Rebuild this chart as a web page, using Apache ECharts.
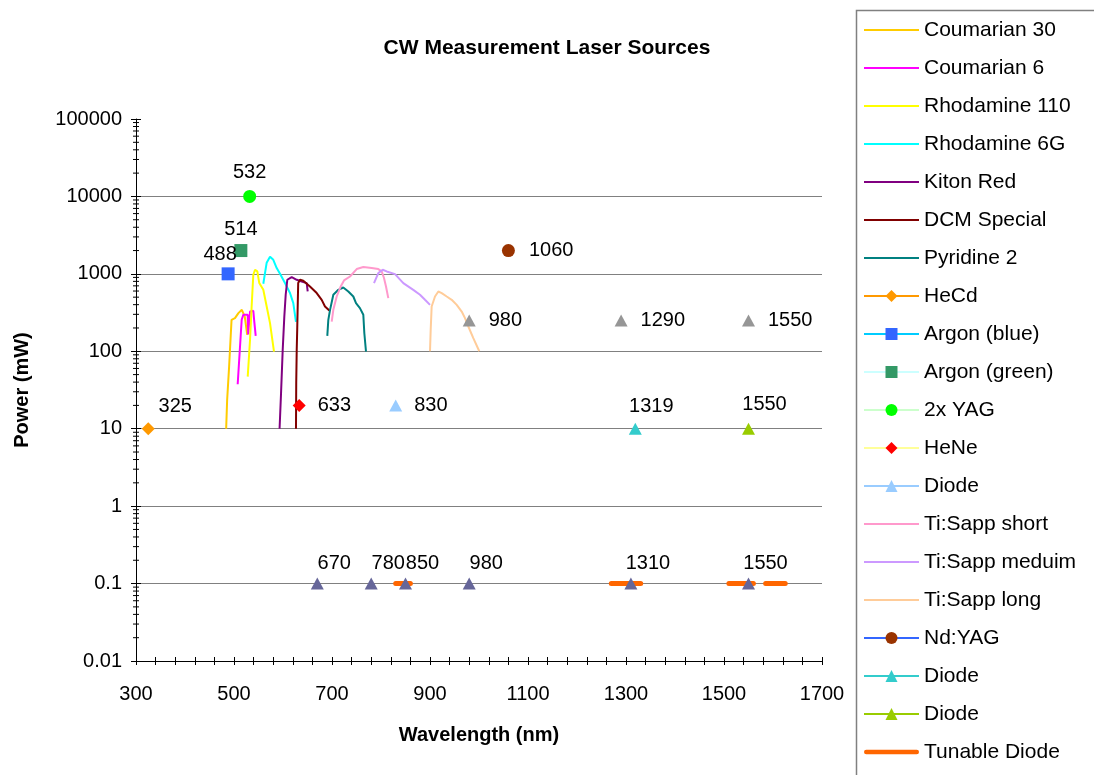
<!DOCTYPE html>
<html><head><meta charset="utf-8">
<script src="https://cdn.jsdelivr.net/npm/echarts@6/dist/echarts.min.js"></script>
<style>html,body{margin:0;padding:0;background:#fff}#c{width:1094px;height:775px}</style>
</head><body><div id="c"></div>
<script>
// ---- data (wavelength nm, power mW) ----
const coumarin30 = [[484,10],[486,23.5],[490,63],[495,255],[502,268],[509,311],[516,343],[520,343],[522,281],[527,163]];
const coumarin6 = [[507.5,37.5],[515.7,255],[519,296],[528,296],[529,165],[532.7,326],[539.4,333],[541.4,242],[544.3,158]];
const rhodamine110 = [[528,47],[532.7,140],[536,379],[539.4,973],[542.9,1130],[547.6,1075],[551.6,760],[559.8,622],[566.7,379],[573.5,231],[581.6,99]];
const rhodamine6G = [[559.8,745],[566.7,1393],[573.5,1665],[580.2,1520],[587.1,1190],[593.9,1002],[604.1,760],[614.3,565],[621,419],[626.5,240]];
const kitonRed = [[593,10],[596,28.7],[599.4,104],[602.7,281],[605.5,537],[608.8,839],[617.8,910],[628,839],[638.2,798],[648.4,760],[650.4,592]];
const dcmSpecial = [[626.5,10],[627,39],[628,104],[629,189],[631,760],[634.7,839],[641.4,815],[655,687],[668.8,565],[679,462],[685.7,379],[694.5,336]];
const pyridine2 = [[690.4,158],[692.5,255],[696,343],[702.7,537],[712.9,622],[723,667],[733.3,592],[743.5,510],[749,419],[757,361],[763.9,296],[766,171],[769.4,99]];
const tiSappShort = [[699.4,242],[702.7,343],[709.6,510],[717.8,687],[724.5,822],[736.7,925],[750.4,1153],[763.9,1224],[781,1190],[794.5,1153],[801.4,1075],[806.1,883],[810.2,687],[814.9,486]];
const tiSappMedium = [[785.7,760],[794.5,1023],[803.5,1130],[811.6,1075],[828.6,993],[845.5,760],[865.9,622],[879.6,537],[889.8,462],[900,398]];
const tiSappLong = [[900,100],[901.4,189],[903.4,379],[910.2,510],[917,592],[923.9,565],[934.1,510],[944.3,462],[954.5,398],[964.7,326],[971.4,268],[978.2,209],[988.4,148],[1000.6,100]];
const heCd = [[325,10]];
const argonBlue = [[488,1000]];
const argonGreen = [[514,2000]];
const yag2x = [[532,10000]];
const heNe = [[633,20]];
const diode830 = [[830,20]];
const ndYag = [[1060,2000]];
const diode1319 = [[1319,10]];
const diode1550 = [[1550,10]];
const tunableDiode = [[830,0.1],[860,0.1],[900,'-'],[1270,0.1],[1330,0.1],[1400,'-'],[1510,0.1],[1560,0.1],[1572,'-'],[1585,0.1],[1625,0.1]];
const diodeHighPower = [[980,250],[1290,250],[1550,250]];
const diodeLowPower = [[670,0.1],[780,0.1],[850,0.1],[980,0.1],[1310,0.1],[1550,0.1]];
// axis decoration
const xTicks = {min:300, max:1700, interval:200};
const yRange = {min:0.01, max:100000};
const minorMultipliers = [2,3,4,5,6,7,8,9];
const decades = [0.01,0.1,1,10,100,1000,10000];

const FONT = 'Liberation Sans, Arial, sans-serif';
const LINE_ICON = 'path://M0,0H55V1.8H0Z';
const THICK_ICON = 'path://M2.5,0H57.5A2.5,2.5 0 0 1 57.5,5H2.5A2.5,2.5 0 0 1 2.5,0Z';
const legendNames = [
  {name:'Coumarian 30', icon:LINE_ICON},{name:'Coumarian 6', icon:LINE_ICON},{name:'Rhodamine 110', icon:LINE_ICON},
  {name:'Rhodamine 6G', icon:LINE_ICON},{name:'Kiton Red', icon:LINE_ICON},{name:'DCM Special', icon:LINE_ICON},
  {name:'Pyridine 2', icon:LINE_ICON},{name:'HeCd'},{name:'Argon (blue)'},{name:'Argon (green)'},{name:'2x YAG'},
  {name:'HeNe'},{name:'Diode'},{name:'Ti:Sapp short', icon:LINE_ICON},{name:'Ti:Sapp meduim', icon:LINE_ICON},
  {name:'Ti:Sapp long', icon:LINE_ICON},{name:'Nd:YAG'},{name:'Diode '},{name:'Diode  '},{name:'Tunable Diode', icon:THICK_ICON}];

function dye(name, data, color){
  return {name, type:'line', data, symbol:'none', showSymbol:false, lineStyle:{color, width:2}, itemStyle:{color}, z:2, silent:true};
}
function pt(name, data, lineColor, color, symbol, size, label, extra){
  return Object.assign({name, type:'line', data, symbol, symbolSize:size, showSymbol:true,
    lineStyle:{color:lineColor, width:2}, itemStyle:{color},
    label:Object.assign({show:true, color:'#000', fontSize:20, fontFamily:FONT,
      formatter:p=>String(p.value[0])}, label), z:3, silent:true}, extra||{});
}

const minorTickData = [];
decades.forEach(d=>minorMultipliers.forEach(m=>minorTickData.push([xTicks.min, +(d*m).toPrecision(3)])));

const series = [
  dye('Coumarian 30', coumarin30, '#FFCC00'),
  dye('Coumarian 6', coumarin6, '#FF00FF'),
  dye('Rhodamine 110', rhodamine110, '#FFFF00'),
  dye('Rhodamine 6G', rhodamine6G, '#00FFFF'),
  dye('Kiton Red', kitonRed, '#800080'),
  dye('DCM Special', dcmSpecial, '#800000'),
  dye('Pyridine 2', pyridine2, '#008080'),
  pt('HeCd', heCd, '#FF9900', '#FF9900', 'diamond', 13, {position:'inside', offset:[27,-22]}),
  pt('Argon (blue)', argonBlue, '#00CCFF', '#3366FF', 'rect', 13, {position:'inside', offset:[-8,-19]}),
  pt('Argon (green)', argonGreen, '#CCFFFF', '#339966', 'rect', 13, {position:'inside', offset:[0,-21]}),
  pt('2x YAG', yag2x, '#CCFFCC', '#00FF00', 'circle', 13, {position:'inside', offset:[0,-24]}),
  pt('HeNe', heNe, '#FFFF99', '#FF0000', 'diamond', 13, {position:'right', distance:12}),
  pt('Diode', diode830, '#99CCFF', '#99CCFF', 'triangle', [13,12], {position:'right', distance:12}),
  dye('Ti:Sapp short', tiSappShort, '#FF99CC'),
  dye('Ti:Sapp meduim', tiSappMedium, '#CC99FF'),
  dye('Ti:Sapp long', tiSappLong, '#FFCC99'),
  pt('Nd:YAG', ndYag, '#3366FF', '#993300', 'circle', 13, {position:'right', distance:14}),
  pt('Diode ', diode1319, '#33CCCC', '#33CCCC', 'triangle', [13,12], {position:'inside', offset:[16,-22]}),
  pt('Diode  ', diode1550, '#99CC00', '#99CC00', 'triangle', [13,12], {position:'inside', offset:[16,-24]}),
  {name:'Tunable Diode', type:'line', data:tunableDiode, symbol:'none', showSymbol:false,
    lineStyle:{color:'#FF6600', width:5, cap:'round'}, itemStyle:{color:'#FF6600'}, z:3, silent:true},
  pt('Diode high', diodeHighPower, '#969696', '#969696', 'triangle', [13,12], {position:'right', distance:13}, {lineStyle:{opacity:0}}),
  pt('Diode low', diodeLowPower, '#666699', '#666699', 'triangle', [13,12], {position:'inside', offset:[17,-20]}, {lineStyle:{opacity:0}}),
  {name:'yMinor', type:'custom', data:minorTickData, clip:false, silent:true, z:5,
    renderItem:(params, api)=>{
      const p = api.coord([api.value(0), api.value(1)]);
      return {type:'line', shape:{x1:p[0]-3, y1:p[1], x2:p[0]+3, y2:p[1]}, style:{stroke:'#000', lineWidth:1}};
    }}
];

const chart = echarts.init(document.getElementById('c'), null, {renderer:'canvas'});
const axisLbl = {color:'#000', fontSize:20, fontFamily:FONT};
chart.setOption({
  animation:false,
  backgroundColor:'#fff',
  title:{text:'CW Measurement Laser Sources', left:'center', top:33,
    textStyle:{fontFamily:FONT, fontWeight:'bold', fontSize:21, color:'#000'}},
  graphic:[{type:'rect', shape:{x:856.5, y:10.5, width:300, height:800}, style:{fill:'#fff', stroke:'#808080', lineWidth:1.5}, z:-1}],
  legend:{data:legendNames, orient:'vertical', left:863, top:19.5, height:765, padding:0, itemWidth:55, itemHeight:15, itemGap:17,
    textStyle:{fontFamily:FONT, fontSize:21, color:'#000'}, selectedMode:false},
  grid:{left:136, top:119, width:686, height:542},
  xAxis:[
    {type:'value', min:xTicks.min, max:xTicks.max, interval:xTicks.interval, position:'bottom',
      name:'Wavelength (nm)', nameLocation:'middle', nameGap:64,
      nameTextStyle:{fontFamily:FONT, fontWeight:'bold', fontSize:20, color:'#000'},
      axisLine:{lineStyle:{color:'#000', width:1}},
      axisTick:{show:true, length:4, lineStyle:{color:'#000'}},
      minorTick:{show:true, splitNumber:5, length:4, lineStyle:{color:'#000'}},
      axisLabel:Object.assign({margin:23, formatter:v=>String(v)}, axisLbl),
      splitLine:{show:false}},
    {type:'value', min:xTicks.min, max:xTicks.max, interval:xTicks.interval, position:'bottom',
      axisLine:{show:false}, axisLabel:{show:false}, splitLine:{show:false},
      axisTick:{show:true, inside:true, length:4, lineStyle:{color:'#000'}},
      minorTick:{show:true, splitNumber:5, length:4, lineStyle:{color:'#000'}}}
  ],
  yAxis:[
    {type:'log', logBase:10, min:yRange.min, max:yRange.max, position:'left',
      name:'Power (mW)', nameLocation:'middle', nameGap:104,
      nameTextStyle:{fontFamily:FONT, fontWeight:'bold', fontSize:20, color:'#000'},
      axisLine:{show:true, lineStyle:{color:'#000', width:1}},
      axisTick:{show:true, length:5, lineStyle:{color:'#000'}},
      axisLabel:Object.assign({margin:14, formatter:v=>String(+(+v).toPrecision(6))}, axisLbl),
      splitLine:{show:true, showMinLine:false, showMaxLine:false, lineStyle:{color:'#808080', width:1}}},
    {type:'log', logBase:10, min:yRange.min, max:yRange.max, position:'left',
      axisLine:{show:false}, axisLabel:{show:false}, splitLine:{show:false},
      axisTick:{show:true, inside:true, length:5, lineStyle:{color:'#000'}}}
  ],
  series
});
</script></body></html>
